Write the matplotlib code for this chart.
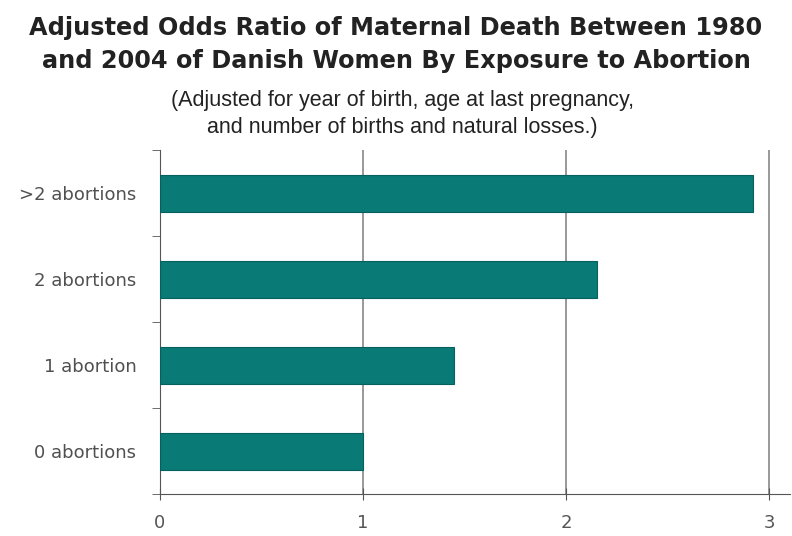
import matplotlib
matplotlib.use("Agg")
import matplotlib.pyplot as plt

categories = ["0 abortions", "1 abortion", "2 abortions", ">2 abortions"]
odds_ratio = [1.0, 1.45, 2.15, 2.92]
x_ticks = [0, 1, 2, 3]

plt.rcParams['font.family'] = ['Liberation Sans', 'DejaVu Sans']

fig = plt.figure(figsize=(7.92, 5.36), dpi=100)
ax = fig.add_axes([0.202, 0.078, 0.795, 0.642])

ax.barh(range(len(categories)), odds_ratio, height=0.43, color="#0a7a77",
        edgecolor="#06605d", linewidth=0.8, zorder=3)

tick_font = {'family': 'DejaVu Sans', 'size': 13}
ax.set_xlim(0, 3.1)
ax.set_ylim(-0.5, 3.5)
ax.set_xticks(x_ticks)
ax.set_xticklabels([str(t) for t in x_ticks], fontdict=tick_font, color="#555555")
ax.set_yticks(range(len(categories)))
ax.set_yticklabels(categories, fontdict=tick_font, color="#505050")
ax.tick_params(axis='y', length=0, pad=17)
ax.set_yticks([-0.5, 0.5, 1.5, 2.5, 3.5], minor=True)
ax.tick_params(axis='y', which='minor', length=6, direction='out', color="#555555")
ax.tick_params(axis='x', length=8, direction='inout', color="#555555", pad=10)

ax.xaxis.grid(True, color="#888888", linewidth=1.2, zorder=0)
for s in ['top', 'right']:
    ax.spines[s].set_visible(False)
ax.spines['left'].set_color("#555555")
ax.spines['bottom'].set_color("#555555")

title_font = ['DejaVu Sans']
fig.text(0.5, 0.948, "Adjusted Odds Ratio of Maternal Death Between 1980",
         ha='center', va='center', fontsize=17.3, fontweight='bold', color="#222222",
         family=title_font)
fig.text(0.5, 0.887, "and 2004 of Danish Women By Exposure to Abortion",
         ha='center', va='center', fontsize=17.3, fontweight='bold', color="#222222",
         family=title_font)
fig.text(0.508, 0.812, "(Adjusted for year of birth, age at last pregnancy,",
         ha='center', va='center', fontsize=15.5, color="#222222")
fig.text(0.508, 0.762, "and number of births and natural losses.)",
         ha='center', va='center', fontsize=15.5, color="#222222")

fig.savefig("out.png", dpi=100, facecolor="white")
